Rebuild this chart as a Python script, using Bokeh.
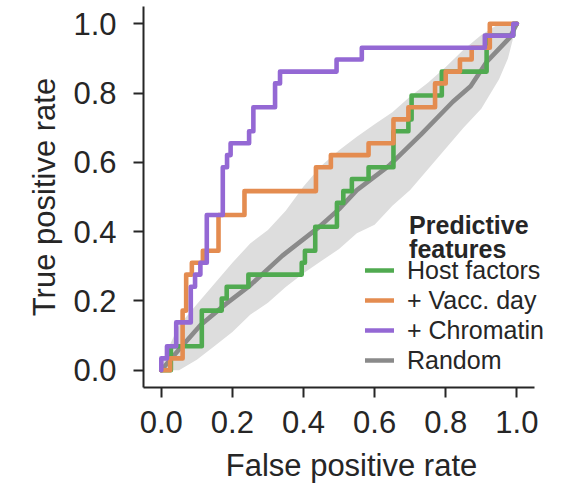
from bokeh.plotting import figure
from bokeh.models import FixedTicker, Legend, LegendItem, Label
from bokeh.embed import file_html
from bokeh.resources import INLINE

# ---- data ----
tick_values = [0.0, 0.2, 0.4, 0.6, 0.8, 1.0]
tick_labels = ["0.0", "0.2", "0.4", "0.6", "0.8", "1.0"]

host_fpr = [0.0, 0.027, 0.114, 0.17, 0.184, 0.245, 0.395, 0.404, 0.433, 0.494, 0.512, 0.536,
            0.583, 0.653, 0.695, 0.704, 0.789, 0.915, 0.99, 1.0]
host_tpr = [0.0, 0.069, 0.172, 0.207, 0.241, 0.276, 0.310, 0.345, 0.414, 0.483, 0.517, 0.552,
            0.586, 0.690, 0.724, 0.793, 0.862, 0.966, 1.0, 1.0]

vacc_fpr = [0.0, 0.025, 0.06, 0.070, 0.086, 0.117, 0.161, 0.234, 0.435, 0.477, 0.583, 0.653,
            0.695, 0.77, 0.80, 0.84, 0.873, 0.924, 1.0]
vacc_tpr = [0.0, 0.034, 0.172, 0.276, 0.310, 0.345, 0.448, 0.517, 0.586, 0.621, 0.655, 0.724,
            0.759, 0.828, 0.862, 0.897, 0.931, 1.0, 1.0]

chrom_fpr = [0.0, 0.0, 0.016, 0.042, 0.083, 0.095, 0.11, 0.128, 0.173, 0.185, 0.195, 0.247,
             0.259, 0.32, 0.334, 0.493, 0.564, 0.91, 0.99, 1.0]
chrom_tpr = [0.0, 0.034, 0.069, 0.138, 0.241, 0.276, 0.310, 0.448, 0.586, 0.621, 0.655, 0.690,
             0.759, 0.828, 0.862, 0.897, 0.931, 0.966, 1.0, 1.0]

random_fpr = [0.0, 0.05, 0.11, 0.18, 0.25, 0.34, 0.44, 0.50, 0.55, 0.64, 0.73, 0.82, 0.87,
              0.915, 0.98, 1.0]
random_tpr = [0.0, 0.06, 0.13, 0.19, 0.245, 0.33, 0.41, 0.465, 0.52, 0.59, 0.68, 0.775, 0.82,
              0.89, 0.96, 1.0]

band_fpr = [0.0, 0.05, 0.1, 0.15, 0.2, 0.25, 0.3, 0.35, 0.4, 0.45, 0.5, 0.55, 0.6, 0.65, 0.7,
            0.75, 0.8, 0.85, 0.9, 0.95, 0.975, 1.0]
band_upper = [0.02, 0.13, 0.19, 0.25, 0.31, 0.366, 0.405, 0.46, 0.53, 0.59, 0.635, 0.674, 0.71,
              0.745, 0.79, 0.83, 0.875, 0.925, 0.968, 1.0, 1.0, 1.0]
band_lower = [0.0, 0.0, 0.03, 0.07, 0.11, 0.16, 0.195, 0.24, 0.28, 0.315, 0.35, 0.395, 0.42,
              0.475, 0.52, 0.58, 0.64, 0.70, 0.755, 0.84, 0.9, 1.0]

series_names = ["Host factors", "+ Vacc. day", "+ Chromatin", "Random"]
legend_title_lines = ["Predictive", "features"]

# ---- styling ----
FONT = "Liberation Sans"
TXT = "#262626"
C_GREEN = "#50aa50"
C_ORANGE = "#e48c50"
C_PURPLE = "#9468d4"
C_GRAY = "#8a8a8a"
C_BAND = "#dddddd"
LW = 4.6

p = figure(width=559, height=485, x_range=(-0.05, 1.12), y_range=(-0.05, 1.05),
           output_backend="svg", toolbar_location=None,
           min_border_left=143, min_border_right=0, min_border_top=6, min_border_bottom=98)
p.outline_line_color = None
p.xgrid.visible = False
p.ygrid.visible = False
p.background_fill_color = "white"

p.varea(x=band_fpr, y1=band_lower, y2=band_upper, fill_color=C_BAND)
r_rand = p.line(random_fpr, random_tpr, line_color=C_GRAY, line_width=LW,
                line_join="round", line_cap="round")
r_host = p.step(host_fpr, host_tpr, mode="after", line_color=C_GREEN, line_width=LW,
                line_join="round", line_cap="round")
r_vacc = p.step(vacc_fpr, vacc_tpr, mode="after", line_color=C_ORANGE, line_width=LW,
                line_join="round", line_cap="round")
r_chrom = p.step(chrom_fpr, chrom_tpr, mode="after", line_color=C_PURPLE, line_width=LW,
                 line_join="round", line_cap="round")

for ax, lab in ((p.xaxis[0], "False positive rate"), (p.yaxis[0], "True positive rate")):
    ax.ticker = FixedTicker(ticks=tick_values)
    ax.major_label_overrides = {v: s for v, s in zip(tick_values, tick_labels)}
    ax.bounds = (-0.05, 1.05)
    ax.axis_label = lab
    ax.axis_label_text_font = FONT
    ax.axis_label_text_font_size = "31px"
    ax.axis_label_text_font_style = "normal"
    ax.axis_label_text_color = TXT
    ax.major_label_text_font = FONT
    ax.major_label_text_font_size = "31px"
    ax.major_label_text_color = TXT
    ax.axis_line_color = TXT
    ax.axis_line_width = 2
    ax.major_tick_line_color = TXT
    ax.major_tick_line_width = 2
    ax.major_tick_out = 10
    ax.major_tick_in = 0
    ax.minor_tick_line_color = None

p.xaxis[0].major_label_standoff = 13
p.xaxis[0].axis_label_standoff = 12
p.yaxis[0].major_label_standoff = 17
p.yaxis[0].axis_label_standoff = 8

legend = Legend(items=[LegendItem(label=series_names[0], renderers=[r_host]),
                       LegendItem(label=series_names[1], renderers=[r_vacc]),
                       LegendItem(label=series_names[2], renderers=[r_chrom]),
                       LegendItem(label=series_names[3], renderers=[r_rand])],
                location=(222, 12), padding=0, margin=0, spacing=0,
                glyph_width=29, glyph_height=30, label_height=30, label_standoff=13,
                label_text_font=FONT, label_text_font_size="25px", label_text_color=TXT,
                background_fill_alpha=0, border_line_alpha=0)
p.add_layout(legend)

for i, line in enumerate(legend_title_lines):
    p.add_layout(Label(x=0.697, y=0.420 - i * 0.070, text=line, text_font=FONT,
                       text_font_size="25px", text_font_style="bold", text_color=TXT,
                       text_baseline="alphabetic"))

open("out.html", "w").write(file_html(p, INLINE))
